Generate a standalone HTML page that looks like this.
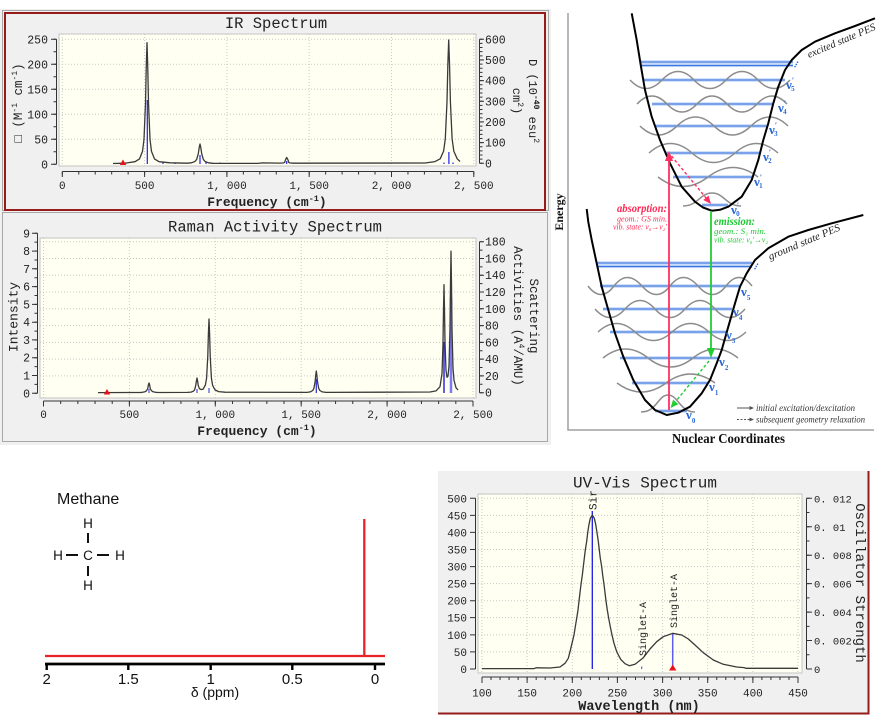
<!DOCTYPE html>
<html><head><meta charset="utf-8">
<style>
html,body{margin:0;padding:0;background:#fff;}
svg{display:block;}
.m{font-family:"Liberation Mono",monospace;fill:#222;}
.s{font-family:"Liberation Serif",serif;}
.a{font-family:"Liberation Sans",sans-serif;fill:#111;}
</style></head><body>
<svg width="881" height="722" viewBox="0 0 881 722" xmlns="http://www.w3.org/2000/svg">
<rect width="881" height="722" fill="#fff"/>

<!-- ===== Upper-left panels background ===== -->
<rect x="0" y="9" width="551" height="436" fill="#f0f0f0"/>
<rect x="2.5" y="10.5" width="546" height="200" fill="none" stroke="#a8a8a8"/>
<rect x="5" y="13" width="540" height="197" fill="none" stroke="#961c1c" stroke-width="2"/>
<rect x="2.5" y="212.5" width="545" height="229" fill="none" stroke="#a8a8a8"/>

<!-- ===== IR Spectrum ===== -->
<text class="m" x="276" y="28" font-size="15.5" text-anchor="middle">IR Spectrum</text>
<rect x="59" y="34" width="417" height="132" fill="#fffff2" stroke="#c4c4c4"/>
<g stroke="#c8c8c8" stroke-width="1" stroke-dasharray="1 2" fill="none">
<path d="M59,39.3H476M59,64.3H476M59,89.3H476M59,114.3H476M59,139.3H476"/>
<path d="M62.3,34V166M144.6,34V166M226.9,34V166M309.2,34V166M391.5,34V166M473.8,34V166"/>
</g>
<g stroke="#333" stroke-width="1" fill="none">
<path d="M56.5,39.3V164.3M51,164.3H56.5M51,139.3H56.5M51,114.3H56.5M51,89.3H56.5M51,64.3H56.5M51,39.3H56.5"/>
<path d="M479.5,39.3V163.3M479.5,163.3H484M479.5,142.6H484M479.5,121.9H484M479.5,101.3H484M479.5,80.6H484M479.5,59.9H484M479.5,39.3H484"/>
<path d="M62.3,171.5H473.8M62.3,171.5V177M144.6,171.5V177M226.9,171.5V177M309.2,171.5V177M391.5,171.5V177M473.8,171.5V177"/>
</g>
<line x1="55" y1="164.8" x2="55" y2="38.8" stroke="#333" stroke-width="3" stroke-dasharray="1 11.5"/>
<line x1="481" y1="163.8" x2="481" y2="38.8" stroke="#333" stroke-width="3" stroke-dasharray="1 3.134"/>
<line x1="61.8" y1="173" x2="474.5" y2="173" stroke="#333" stroke-width="3" stroke-dasharray="1 15.46"/>
<g class="m" font-size="11.5" text-anchor="end">
<text x="48" y="168.3">0</text><text x="48" y="143.3">50</text><text x="48" y="118.3">100</text><text x="48" y="93.3">150</text><text x="48" y="68.3">200</text><text x="48" y="43.3">250</text>
</g>
<g class="m" font-size="11.5">
<text x="485" y="167.3">0</text><text x="485" y="146.6">100</text><text x="485" y="125.9">200</text><text x="485" y="105.3">300</text><text x="485" y="84.6">400</text><text x="485" y="63.9">500</text><text x="485" y="43.3">600</text>
</g>
<g class="m" font-size="11" text-anchor="middle">
<text x="62.3" y="189">0</text><text x="144.6" y="189">500</text><text x="226.9" y="189">1, 000</text><text x="309.2" y="189">1, 500</text><text x="391.5" y="189">2, 000</text><text x="473.8" y="189">2, 500</text>
</g>
<text class="m" x="267" y="206" font-size="13" font-weight="bold" text-anchor="middle">Frequency (cm<tspan font-size="8.5" dy="-5">-1</tspan><tspan dy="5">)</tspan></text>
<text class="m" transform="translate(19,103) rotate(-90)" font-size="12.5" text-anchor="middle" dominant-baseline="central"><tspan font-weight="bold">□</tspan> (M<tspan font-size="8" dy="-4">-1</tspan><tspan dy="4"> cm</tspan><tspan font-size="8" dy="-4">-1</tspan><tspan dy="4">)</tspan></text>
<text class="m" transform="translate(532,101) rotate(90)" font-size="12" text-anchor="middle" dominant-baseline="central">D (10<tspan font-size="8" font-weight="bold" dy="-4">-40</tspan><tspan dy="4"> esu</tspan><tspan font-size="8" dy="-4">2</tspan></text>
<text class="m" transform="translate(516,101) rotate(90)" font-size="12" text-anchor="middle" dominant-baseline="central">cm<tspan font-size="8" dy="-4">2</tspan><tspan dy="4">)</tspan></text>
<!-- IR sticks -->
<g stroke="#1f1fe6" stroke-width="1.2">
<line x1="147.3" y1="164" x2="147.3" y2="100"/><line x1="200" y1="164" x2="200" y2="155"/><line x1="286.7" y1="164" x2="286.7" y2="161"/><line x1="448.9" y1="164" x2="448.9" y2="152"/>
<line x1="163" y1="164" x2="163" y2="162.5"/><line x1="175" y1="164" x2="175" y2="162.5"/><line x1="206" y1="164" x2="206" y2="162.5"/><line x1="220" y1="164" x2="220" y2="162.5"/><line x1="444" y1="164" x2="444" y2="162.5"/><line x1="453" y1="164" x2="453" y2="162.5"/>
</g>
<path fill="none" stroke="#3a3a3a" stroke-width="1.3" stroke-linejoin="round" d="M113,163.5 L125,163.2 L135,161.7 L139.5,158.9 L142.5,151.4 L144,139.3 L145.5,103.1 L146.25,66.9 L147,42.7 L147.75,66.9 L148.5,103.1 L150,139.3 L151.5,151.4 L154.5,158.9 L159,161.7 L170,162.8 L187,163.2 L191.5,162.8 L194.9,161.5 L196.6,159.6 L198.3,153.7 L199.15,147.9 L200,144 L200.85,147.9 L201.7,153.7 L203.4,159.6 L205.1,161.5 L208.5,162.8 L213,163.3 L258,163.4 L262,162.9 L280,163.1 L283.7,162.9 L284.7,162.3 L285.2,160.5 L286,158.7 L286.7,157.5 L287.4,158.7 L288.2,160.5 L288.7,162.3 L289.7,162.9 L293,163.2 L425,163 L435,161.6 L440.2,158.8 L443.6,151.1 L445.3,138.8 L447,101.7 L447.85,64.7 L448.7,40 L449.55,64.7 L450.4,101.7 L452.1,138.8 L453.8,151.1 L457.2,158.8 L460,161.5"/>
<polygon points="123,159.5 119.8,165 126.2,165" fill="#e8101a"/>

<!-- ===== Raman ===== -->
<text class="m" x="275" y="231.5" font-size="15.5" text-anchor="middle">Raman Activity Spectrum</text>
<rect x="40" y="238" width="436" height="160" fill="#fffff2" stroke="#c4c4c4"/>
<g stroke="#c8c8c8" stroke-width="1" stroke-dasharray="1 2" fill="none">
<path d="M40,241.7H476M40,258.5H476M40,275.2H476M40,292H476M40,308.8H476M40,325.6H476M40,342.4H476M40,359.1H476M40,375.9H476"/>
<path d="M43.5,238V398M129.4,238V398M215.3,238V398M301.2,238V398M387.1,238V398M473,238V398"/>
</g>
<g stroke="#333" stroke-width="1" fill="none">
<path d="M37.5,233.3V393.3M32,393.3H37.5M32,375.5H37.5M32,357.7H37.5M32,339.9H37.5M32,322.2H37.5M32,304.4H37.5M32,286.6H37.5M32,268.8H37.5M32,251.1H37.5M32,233.3H37.5"/>
<path d="M479.5,241.7V392.7M479.5,392.7H484M479.5,375.9H484M479.5,359.1H484M479.5,342.4H484M479.5,325.6H484M479.5,308.8H484M479.5,292H484M479.5,275.2H484M479.5,258.5H484M479.5,241.7H484"/>
<path d="M43.5,401H473M43.5,401V406.5M129.4,401V406.5M215.3,401V406.5M301.2,401V406.5M387.1,401V406.5M473,401V406.5"/>
</g>
<line x1="36" y1="393.8" x2="36" y2="232.8" stroke="#333" stroke-width="3" stroke-dasharray="1 7.89"/>
<line x1="481" y1="393.2" x2="481" y2="241.2" stroke="#333" stroke-width="3" stroke-dasharray="1 7.39"/>
<line x1="43" y1="402.5" x2="474" y2="402.5" stroke="#333" stroke-width="3" stroke-dasharray="1 16.18"/>
<g class="m" font-size="11.5" text-anchor="end">
<text x="30" y="397.3">0</text><text x="30" y="379.5">1</text><text x="30" y="361.7">2</text><text x="30" y="343.9">3</text><text x="30" y="326.2">4</text><text x="30" y="308.4">5</text><text x="30" y="290.6">6</text><text x="30" y="272.8">7</text><text x="30" y="255.1">8</text><text x="30" y="237.3">9</text>
</g>
<g class="m" font-size="11.5">
<text x="485" y="396.7">0</text><text x="485" y="379.9">20</text><text x="485" y="363.1">40</text><text x="485" y="346.4">60</text><text x="485" y="329.6">80</text><text x="485" y="312.8">100</text><text x="485" y="296">120</text><text x="485" y="279.2">140</text><text x="485" y="262.5">160</text><text x="485" y="245.7">180</text>
</g>
<g class="m" font-size="11" text-anchor="middle">
<text x="43.5" y="418">0</text><text x="129.4" y="418">500</text><text x="215.3" y="418">1, 000</text><text x="301.2" y="418">1, 500</text><text x="387.1" y="418">2, 000</text><text x="473" y="418">2, 500</text>
</g>
<text class="m" x="257" y="435" font-size="13" font-weight="bold" text-anchor="middle">Frequency (cm<tspan font-size="8.5" dy="-5">-1</tspan><tspan dy="5">)</tspan></text>
<text class="m" transform="translate(14,317) rotate(-90)" font-size="13" text-anchor="middle" dominant-baseline="central">Intensity</text>
<text class="m" transform="translate(533,316) rotate(90)" font-size="12.5" text-anchor="middle" dominant-baseline="central">Scattering</text>
<text class="m" transform="translate(517,316) rotate(90)" font-size="12.5" text-anchor="middle" dominant-baseline="central">Activities (A<tspan font-size="8" dy="-4">4</tspan><tspan dy="4">/AMU)</tspan></text>
<g stroke="#2a2ae0">
<line x1="444" y1="393" x2="444" y2="342" stroke-width="1.5"/>
<line x1="451" y1="393" x2="451" y2="298" stroke="#7a7af5" stroke-width="2.5"/>
<line x1="316.3" y1="393" x2="316.3" y2="379" stroke-width="1.2"/>
<line x1="149" y1="393" x2="149" y2="389" stroke-width="1"/>
<line x1="209" y1="393" x2="209" y2="388" stroke-width="1"/>
<line x1="197" y1="393" x2="197" y2="389" stroke-width="1"/>
</g>
<path fill="none" stroke="#3a3a3a" stroke-width="1.3" stroke-linejoin="round" d="M98,392.6 L140,392.5 L142.5,392.3 L145.1,391.7 L146.4,390.8 L147.7,388.8 L148.35,385 L149,383 L149.65,385 L150.3,388.8 L151.6,390.8 L152.9,391.7 L155.5,392.3 L158,392.5 L187.4,392.4 L191,392.1 L193.4,391.2 L194.6,389.8 L195.8,385.3 L196.4,380.9 L197,378 L197.6,380.9 L198.2,385.3 L199.4,388.7 L201,389.5 L203,389.3 L205.4,385 L206.6,378 L207.8,355.8 L208.4,333.7 L209,319 L209.6,333.7 L210.2,355.8 L211.4,378 L212.6,385.3 L215,389.9 L218.6,391.6 L225,392.2 L307,392.4 L310.3,391.9 L312.7,390.5 L313.9,388.4 L315.1,381.8 L315.7,375.3 L316.3,371 L316.9,375.3 L317.5,381.8 L318.7,388.4 L319.9,390.5 L322.3,391.9 L326,392.4 L430,392 L436,390.9 L440,386.7 L442,373.5 L443,343.7 L443.5,309.9 L444,284.7 L444.5,309.3 L445,342.3 L446,370.5 L447,377.3 L448,376.1 L449,365.9 L450,328 L450.5,283.9 L451,251.1 L451.5,284.3 L452,329 L453,368.1 L454,380.3 L456,387.7 L458,390"/>
<polygon points="107,389 103.8,394.5 110.2,394.5" fill="#e8101a"/>

<!-- ===== Energy diagram ===== -->
<path d="M568,13V430H874" fill="none" stroke="#a0a0a0" stroke-width="1.5"/>
<text class="s" transform="translate(563,212) rotate(-90)" font-size="12" font-weight="bold" text-anchor="middle" fill="#111">Energy</text>
<text class="s" x="728.5" y="443" font-size="14" font-weight="bold" text-anchor="middle" textLength="113" lengthAdjust="spacingAndGlyphs" fill="#111">Nuclear Coordinates</text>

<!-- excited levels -->
<g stroke="#b5cff5" stroke-width="3.2" fill="none">
<path d="M640,62H793M640,65.5H793M644,80H785M652,104H773M655,126H767M665,153H760M673,177H753M702,205H728"/>
<path d="M597,263H752M597,266.5H752M600,286H740M603,309H732M610,332H727M620,358H718M632,383H708M655,411H687"/>
</g>
<g stroke="#3d74e0" stroke-width="1.1" fill="none">
<path d="M640,62H793M640,65.5H793M644,80H785M652,104H773M655,126H767M665,153H760M673,177H753M702,205H728"/>
<path d="M597,263H752M597,266.5H752M600,286H740M603,309H732M610,332H727M620,358H718M632,383H708M655,411H687"/>
</g>
<g stroke="#8c8c8c" stroke-width="1.5" fill="none">
<path d="M683,206 C698,206 700,193 712,193 C724,193 726,206 741,206"/>
<path d="M658,177 Q683,196 708,177 T758,177"/>
<path d="M649,153 Q670.5,134 692,153 T735,153 T778,153"/>
<path d="M640,126 Q658.5,144 677,126 T714,126 T751,126 T788,126"/>
<path d="M637,104 Q652,88 667,104 T697,104 T727,104 T757,104 T787,104"/>
<path d="M630,80 Q646,97 662,80 T694,80 T726,80 T758,80 T790,80"/>
<path d="M641,412 C657,412 658,395 668,395 C678,395 680,412 695,412"/>
<path d="M617,383 Q641.5,401 666,383 T715,383"/>
<path d="M603,358 Q625.5,340 648,358 T693,358 T738,358"/>
<path d="M598,332 Q616.5,315 635,332 T672,332 T709,332 T746,332"/>
<path d="M595,309 Q610,326 625,309 T655,309 T685,309 T715,309 T745,309"/>
<path d="M588,286 Q601,303 614,286 T642,286 T670,286 T698,286 T726,286 T752,286"/>
</g>
<g fill="none" stroke="#000" stroke-width="2" stroke-linejoin="round">
<path d="M631.7,13.3 L636.7,40 L641,66.7 L645,90 L651.7,116.7 L660,140 L670,163.3 L681.7,186.7 L695,201.7 L703,207.5 L711.7,210.7 L720,209.8 L728.3,206.7 L741.7,196.7 L751.7,180 L758.3,160 L763.3,140 L768.3,123.3 L773.3,103.3 L778.3,86.7 L785,70 L791.7,60 L801.7,50 L815,41.7 L835,33.3 L855,26 L875,18.3"/>
<path d="M586.7,209 L588.3,222 L591.7,240 L596.7,263.3 L601.7,286.7 L608.3,310 L615,333.3 L623.3,356.7 L633.3,380 L645,400 L655,410 L666.7,415 L678.3,412.7 L690,406.7 L701.7,393.3 L710,380 L716.7,363.3 L721.7,350 L728.3,326.7 L735,303.3 L740,286.7 L746.7,273.3 L755,260 L768.3,248.3 L788.3,236.7 L808.3,230 L831.7,223.3 L863.3,215"/>
</g>
<text class="s" transform="translate(809,58) rotate(-23)" font-size="10.5" font-style="italic" fill="#222" textLength="73" lengthAdjust="spacingAndGlyphs">excited state PES</text>
<text class="s" transform="translate(770,260) rotate(-23)" font-size="10.5" font-style="italic" fill="#222" textLength="77" lengthAdjust="spacingAndGlyphs">ground state PES</text>

<!-- nu labels -->
<g class="s" font-size="13" font-weight="bold" fill="#2a68d8">
<text x="786" y="89">ν<tspan font-size="8" dy="-6">′</tspan><tspan font-size="7" dx="-3" dy="8">5</tspan></text>
<text x="778" y="112">ν<tspan font-size="8" dy="-6">′</tspan><tspan font-size="7" dx="-3" dy="8">4</tspan></text>
<text x="769" y="134">ν<tspan font-size="8" dy="-6">′</tspan><tspan font-size="7" dx="-3" dy="8">3</tspan></text>
<text x="763" y="161">ν<tspan font-size="8" dy="-6">′</tspan><tspan font-size="7" dx="-3" dy="8">2</tspan></text>
<text x="754" y="186">ν<tspan font-size="8" dy="-6">′</tspan><tspan font-size="7" dx="-3" dy="8">1</tspan></text>
<text x="731" y="214">ν<tspan font-size="8" dy="-6">′</tspan><tspan font-size="7" dx="-3" dy="8">0</tspan></text>
<text x="741" y="296">ν<tspan font-size="7" dy="4">5</tspan></text>
<text x="733" y="316">ν<tspan font-size="7" dy="4">4</tspan></text>
<text x="726" y="339">ν<tspan font-size="7" dy="4">3</tspan></text>
<text x="719" y="366">ν<tspan font-size="7" dy="4">2</tspan></text>
<text x="709" y="391">ν<tspan font-size="7" dy="4">1</tspan></text>
<text x="686" y="419">ν<tspan font-size="7" dy="4">0</tspan></text>
<text transform="translate(795,68) rotate(-60)" font-size="10">...</text>
<text transform="translate(755,270) rotate(-60)" font-size="10">...</text>
</g>

<!-- arrows -->
<g stroke="#ff3060" stroke-width="1.8" fill="none">
<line x1="669" y1="410" x2="669" y2="159"/>
<line x1="671.5" y1="156" x2="706.5" y2="198.5" stroke-dasharray="3 2.2" stroke-width="1.4"/>
</g>
<polygon points="669,151 665,161 673,161" fill="#ff3060"/>
<polygon points="711,204 708.6,195.6 703.2,200" fill="#ff3060"/>
<g stroke="#22cc33" stroke-width="1.8" fill="none">
<line x1="711" y1="211" x2="711" y2="350"/>
<line x1="709" y1="361" x2="676" y2="401" stroke-dasharray="3 2.2" stroke-width="1.4"/>
</g>
<polygon points="711,358 707,348 715,348" fill="#22cc33"/>
<polygon points="670.5,408 678.4,404.2 673.1,399.6" fill="#22cc33"/>

<g class="s" font-style="italic">
<text x="667" y="212" text-anchor="end" font-size="12" font-weight="bold" fill="#ff2a55" textLength="50" lengthAdjust="spacingAndGlyphs">absorption:</text>
<text x="667" y="221.5" text-anchor="end" font-size="8.5" fill="#ff2a55" textLength="50" lengthAdjust="spacingAndGlyphs">geom.: GS min.</text>
<text x="667" y="229.5" text-anchor="end" font-size="8.5" fill="#ff2a55" textLength="54" lengthAdjust="spacingAndGlyphs">vib. state: ν₀→ν₂′</text>
<text x="714" y="225" font-size="12" font-weight="bold" fill="#1ec832" textLength="41" lengthAdjust="spacingAndGlyphs">emission:</text>
<text x="714" y="234" font-size="8.5" fill="#1ec832" textLength="52" lengthAdjust="spacingAndGlyphs">geom.: S₁ min.</text>
<text x="714" y="242.5" font-size="8.5" fill="#1ec832" textLength="54" lengthAdjust="spacingAndGlyphs">vib. state: ν₀′→ν₂</text>
<text x="756" y="411" font-size="9.5" fill="#333" textLength="99" lengthAdjust="spacingAndGlyphs">initial excitation/dexcitation</text>
<text x="756" y="422.5" font-size="9.5" fill="#333" textLength="109" lengthAdjust="spacingAndGlyphs">subsequent geometry relaxation</text>
</g>
<g stroke="#555" stroke-width="1" fill="none">
<line x1="737" y1="408" x2="751" y2="408"/>
<line x1="737" y1="419.5" x2="751" y2="419.5" stroke-dasharray="2 1.5"/>
</g>
<polygon points="754,408 749.5,406 749.5,410" fill="#555"/>
<polygon points="754,419.5 749.5,417.5 749.5,421.5" fill="#555"/>

<!-- ===== NMR ===== -->
<text class="a" x="57" y="504" font-size="16">Methane</text>
<g class="a" font-size="13.5" text-anchor="middle">
<text x="88" y="528">H</text>
<text x="58" y="560">H</text>
<text x="88" y="560">C</text>
<text x="120" y="560">H</text>
<text x="88" y="590">H</text>
</g>
<g stroke="#111" stroke-width="2">
<line x1="88" y1="533" x2="88" y2="543"/>
<line x1="88" y1="566" x2="88" y2="576"/>
<line x1="66" y1="555" x2="78" y2="555"/>
<line x1="97" y1="555" x2="109" y2="555"/>
</g>
<g stroke="#e8242b" stroke-width="2.3">
<line x1="45" y1="656" x2="385" y2="656"/>
<line x1="364.3" y1="519" x2="364.3" y2="657"/>
</g>
<g stroke="#000">
<line x1="45" y1="664" x2="385" y2="664" stroke-width="2.8"/>
<path d="M46.7,664V670M128.3,664V670M210.7,664V670M292.3,664V670M375,664V670" stroke-width="2.4"/>
</g>
<g class="a" font-size="15" text-anchor="middle">
<text x="46.7" y="684">2</text><text x="128.3" y="684">1.5</text><text x="210.7" y="684">1</text><text x="292.3" y="684">0.5</text><text x="375" y="684">0</text>
</g>
<text class="a" x="215" y="697" font-size="14" text-anchor="middle">δ (ppm)</text>

<!-- ===== UV-Vis ===== -->
<rect x="438" y="471" width="430" height="242" fill="#f0f0f0"/>
<line x1="868.5" y1="471" x2="868.5" y2="714" stroke="#961c1c" stroke-width="2"/>
<line x1="438" y1="713.5" x2="869.5" y2="713.5" stroke="#961c1c" stroke-width="2"/>
<text class="m" x="645" y="487.5" font-size="16" text-anchor="middle">UV-Vis Spectrum</text>
<rect x="478" y="494" width="324" height="179" fill="#fffff2" stroke="#c4c4c4"/>
<g stroke="#c8c8c8" stroke-width="1" stroke-dasharray="1 2" fill="none">
<path d="M478,498.3H802M478,515.4H802M478,532.4H802M478,549.5H802M478,566.6H802M478,583.6H802M478,600.7H802M478,617.6H802M478,634.9H802M478,651.9H802"/>
<path d="M482,494V673M527.1,494V673M572.3,494V673M617.4,494V673M662.6,494V673M707.7,494V673M752.9,494V673M798,494V673"/>
</g>
<g stroke="#333" stroke-width="1" fill="none">
<path d="M475.5,498.3V669M470,669H475.5M470,651.9H475.5M470,634.9H475.5M470,617.6H475.5M470,600.7H475.5M470,583.6H475.5M470,566.6H475.5M470,549.5H475.5M470,532.4H475.5M470,515.4H475.5M470,498.3H475.5"/>
<path d="M806.5,498.3V669M806.5,669H812M806.5,640.55H812M806.5,612.1H812M806.5,583.65H812M806.5,555.2H812M806.5,526.75H812M806.5,498.3H812"/>
<path d="M482,677H798M482,677V683M527.1,677V683M572.3,677V683M617.4,677V683M662.6,677V683M707.7,677V683M752.9,677V683M798,677V683"/>
</g>
<line x1="808" y1="669.5" x2="808" y2="497.8" stroke="#333" stroke-width="3" stroke-dasharray="1 13.225"/>
<line x1="481.5" y1="678.5" x2="799" y2="678.5" stroke="#333" stroke-width="3" stroke-dasharray="1 8.029"/>
<g class="m" font-size="11" text-anchor="end">
<text x="467" y="673">0</text><text x="467" y="655.9">50</text><text x="467" y="638.9">100</text><text x="467" y="621.6">150</text><text x="467" y="604.7">200</text><text x="467" y="587.6">250</text><text x="467" y="570.6">300</text><text x="467" y="553.5">350</text><text x="467" y="536.4">400</text><text x="467" y="519.4">450</text><text x="467" y="502.3">500</text>
</g>
<g class="m" font-size="10.5">
<text x="814" y="673">0</text><text x="814" y="644.6">0. 002</text><text x="814" y="616.1">0. 004</text><text x="814" y="587.7">0. 006</text><text x="814" y="559.2">0. 008</text><text x="814" y="530.8">0. 01</text><text x="814" y="502.3">0. 012</text>
</g>
<g class="m" font-size="11" text-anchor="middle">
<text x="482" y="696.5">100</text><text x="527.1" y="696.5">150</text><text x="572.3" y="696.5">200</text><text x="617.4" y="696.5">250</text><text x="662.6" y="696.5">300</text><text x="707.7" y="696.5">350</text><text x="752.9" y="696.5">400</text><text x="798" y="696.5">450</text>
</g>
<text class="m" x="639" y="710" font-size="13.5" font-weight="bold" text-anchor="middle">Wavelength (nm)</text>
<text class="m" transform="translate(859,583) rotate(90)" font-size="14" text-anchor="middle" dominant-baseline="central">Oscillator Strength</text>
<line x1="592.3" y1="669" x2="592.3" y2="511" stroke="#1a1ae8" stroke-width="1.3"/>
<line x1="672.7" y1="669" x2="672.7" y2="633" stroke="#5c5cf0" stroke-width="1.5"/>
<line x1="641.7" y1="669" x2="641.7" y2="666.5" stroke="#5c5cf0" stroke-width="1.2"/>
<path fill="none" stroke="#3a3a3a" stroke-width="1.3" stroke-linejoin="round" d="M482,668.6 L534,668.6 L536,667.8 L550,668 L560,667 L565,663.3 L568.3,658.3 L570,651.7 L572,643.3 L574,635 L575.3,626.7 L576.7,618.3 L578,610 L579,601 L580,592.7 L581,584.3 L582.3,575.3 L583.3,566.7 L584.3,558.3 L585.3,550 L586.7,541.3 L587.7,532.7 L589,524.3 L590.3,518.3 L592.3,515 L594.3,518.3 L595.7,524.3 L597,532.7 L598.3,541.3 L599.3,550 L600.3,558.3 L601.7,566.7 L602.7,575.3 L604,584.3 L605,592.7 L606,601 L607.3,610 L608.7,618.3 L610.3,626.7 L612,635 L614,643.3 L616.7,651.7 L620.7,659.3 L625,663.7 L629.3,665.7 L635,664.3 L643.3,657.7 L650,649 L656.7,641.7 L663.3,636.7 L672.7,633.3 L681.7,635 L688.3,639 L695,645 L703.3,652.7 L713.3,660 L723.3,664.3 L736.7,667 L744,667.6 L746,668.3 L798,668.3"/>
<polygon points="672.7,664.5 669,670.5 676.4,670.5" fill="#e8101a"/>
<text class="m" transform="translate(596.5,510) rotate(-90)" font-size="11">Sir</text>
<text class="m" transform="translate(646,656) rotate(-90)" font-size="10" textLength="54" lengthAdjust="spacingAndGlyphs">Singlet-A</text>
<text class="m" transform="translate(677,628) rotate(-90)" font-size="10" textLength="54" lengthAdjust="spacingAndGlyphs">Singlet-A</text>
</svg>
</body></html>
